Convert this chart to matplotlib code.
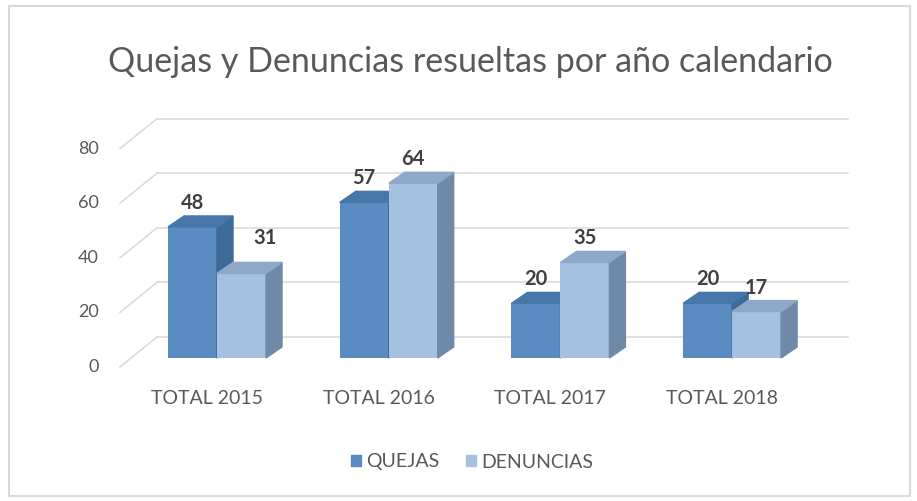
import matplotlib.pyplot as plt
from matplotlib.patches import Polygon, Patch, Rectangle

categories = ['TOTAL 2015', 'TOTAL 2016', 'TOTAL 2017', 'TOTAL 2018']
quejas = [48, 57, 20, 20]
denuncias = [31, 64, 35, 17]
y_ticks = [0, 20, 40, 60, 80]
title = 'Quejas y Denuncias resueltas por año calendario'

plt.rcParams['font.family'] = ['Lato', 'DejaVu Sans']

W, H = 917, 501
fig = plt.figure(figsize=(W / 100, H / 100), dpi=100)
ax = fig.add_axes([0, 0, 1, 1])

# pixel layout of the fake 3d scene: category i centred at x0 + step*i,
# value 0 of the bar front plane at y0, ppu pixels per unit
x0, step = 217, 171.7
y0, ppu = 358, 2.73
ax.set_xlim((0 - x0) / step, (W - x0) / step)
ax.set_ylim((y0 - H) / ppu, y0 / ppu)
ax.axis('off')

def px_x(p):
    return p / step

def px_y(p):
    return p / ppu

bw = px_x(49)
ddx, ddy = px_x(16), px_y(11)          # bar depth
back_dy = px_y(21)
wall_l = (157 - x0) / step              # back wall left edge
wall_r = (848 - x0) / step
front_l = (120 - x0) / step             # left wall front edge
front_dy = px_y(-9)

grid_c = '#d9d9d9'
for v in y_ticks:
    ax.plot([wall_l, wall_r], [v + back_dy, v + back_dy], color=grid_c, lw=1.1, zorder=1)
    ax.plot([front_l, wall_l], [v + front_dy, v + back_dy], color=grid_c, lw=1.1, zorder=1)
    ax.text(front_l - px_x(21), v + front_dy, str(v), ha='right', va='center',
            fontsize=13, color='#595959')

styles = [
    dict(front='#5a8cc2', top='#4677ab', side='#3d6a98'),
    dict(front='#a6c0df', top='#8ea9c8', side='#6f8aa8'),
]
label_shift = {(0, 1): (24, 11)}

for i in range(len(categories)):
    for s, vals in enumerate([quejas, denuncias]):
        v = vals[i]
        xc = i - bw / 2 + s * bw
        xl, xr = xc - bw / 2, xc + bw / 2
        z = 3 + i * 10 + s * 3
        st = styles[s]
        ax.bar(xc, v, width=bw, color=st['front'], zorder=z)
        ax.add_patch(Polygon([(xr, 0), (xr + ddx, ddy), (xr + ddx, v + ddy), (xr, v)],
                             closed=True, color=st['side'], zorder=z + 1))
        ax.add_patch(Polygon([(xl, v), (xl + ddx, v + ddy), (xr + ddx, v + ddy), (xr, v)],
                             closed=True, color=st['top'], zorder=z + 1))
        sx, sy = label_shift.get((i, s), (0, 0))
        ax.annotate(str(v), (xc, v), xytext=(sx, 24 + sy), textcoords='offset pixels',
                    ha='center', va='center', fontsize=14.5, fontweight='bold',
                    color='#404040', zorder=50)
    ax.text(i - px_x(10), px_y(y0 - 398), categories[i], ha='center', va='center',
            fontsize=14, color='#595959')

ax.text(px_x(470 - x0), px_y(y0 - 62), title, ha='center', va='center',
        fontsize=24.5, color='#595959')

handles = [Patch(color=styles[0]['front']), Patch(color=styles[1]['front'])]
fig.legend(handles, ['QUEJAS', 'DENUNCIAS'], loc='center', bbox_to_anchor=(472 / W, 1 - 462 / H),
           ncol=2, frameon=False, fontsize=14, handlelength=0.5, handleheight=0.5,
           handletextpad=0.25, columnspacing=1.4, labelcolor='#595959')

fig.patches.append(Rectangle((9 / W, 1 - 496 / H), 901 / W, 490 / H, transform=fig.transFigure,
                             fill=False, edgecolor='#d9d9d9', lw=1.5))

fig.savefig('out.png', dpi=100)
